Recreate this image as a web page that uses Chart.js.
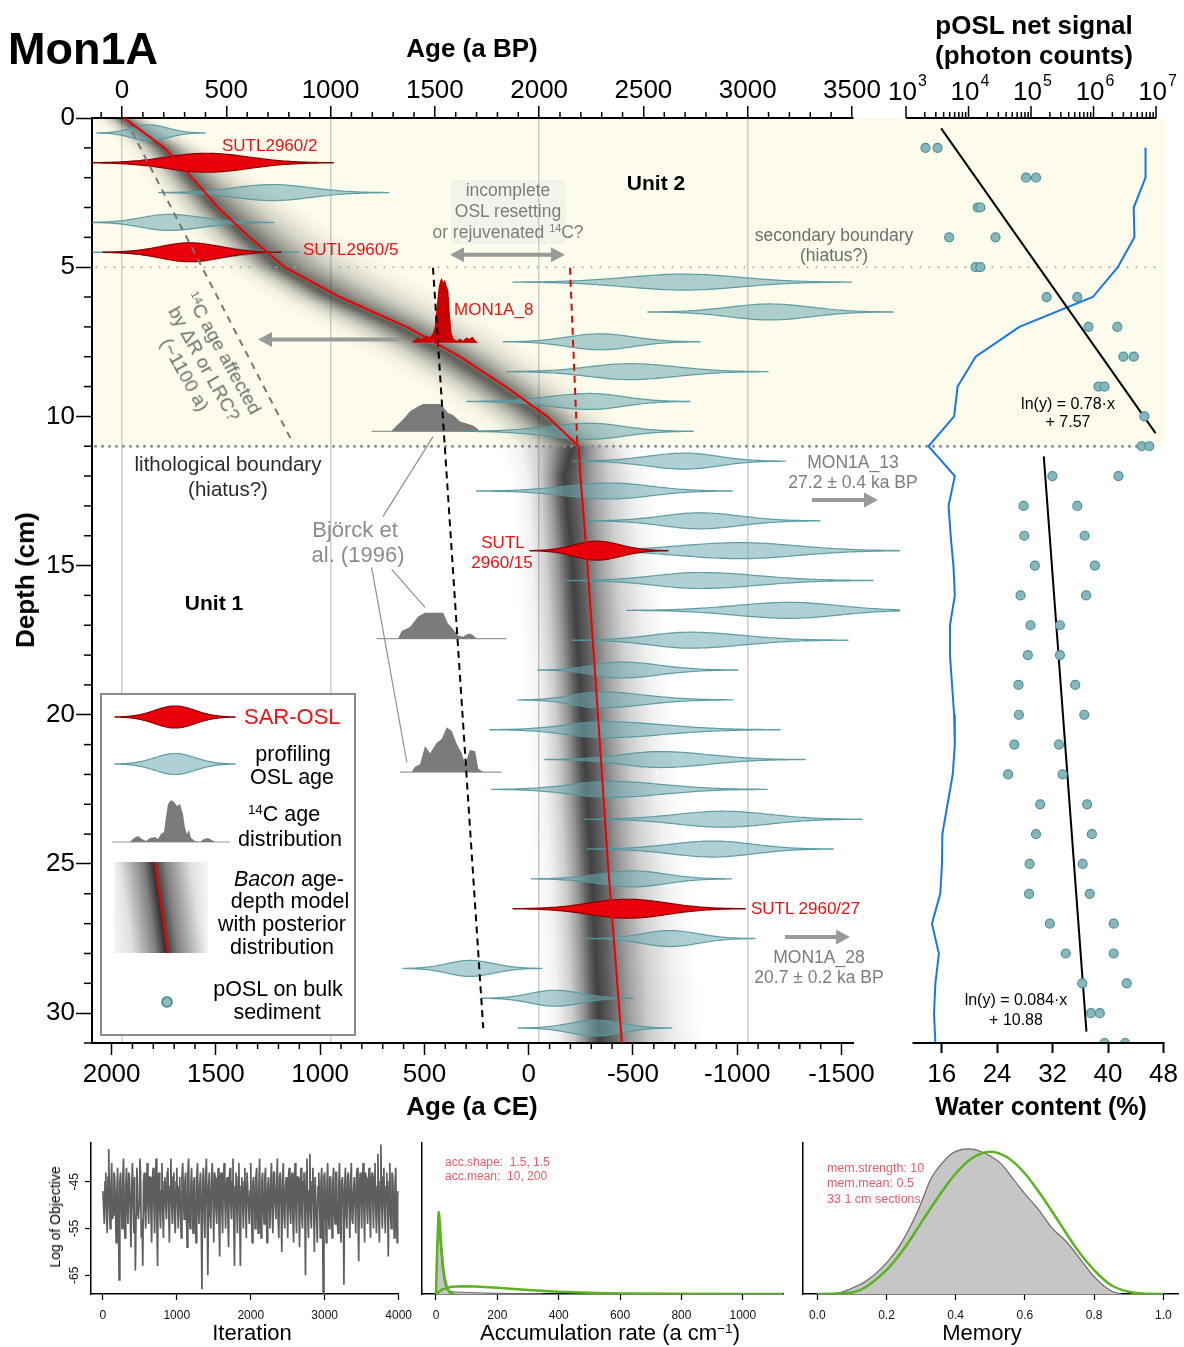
<!DOCTYPE html>
<html><head><meta charset="utf-8"><title>Mon1A</title>
<script src="https://cdn.jsdelivr.net/npm/chart.js@4.4.1/dist/chart.umd.min.js"></script>
<style>
html,body{margin:0;padding:0;background:#fff;}
body{width:1184px;height:1347px;position:relative;overflow:hidden;font-family:"Liberation Sans",Arial,Helvetica,sans-serif;}
canvas{position:absolute;display:block;}
.t{position:absolute;white-space:nowrap;line-height:1;}
sup{font-size:0.62em;vertical-align:0.55em;line-height:0;}
</style></head><body>
<div style="position:absolute;left:92px;top:118px;width:1073px;height:328px;background:#fcfbec"></div>
<div style="position:absolute;left:451px;top:180px;width:115px;height:64px;background:#f3f3ec"></div>
<canvas id="cMain" width="900" height="1130" style="left:0;top:0"></canvas>
<canvas id="cRight" width="331" height="1130" style="left:853px;top:0"></canvas>
<canvas id="cTrace" width="420" height="217" style="left:0;top:1130px"></canvas>
<canvas id="cAcc" width="380" height="217" style="left:420px;top:1130px"></canvas>
<canvas id="cMem" width="384" height="217" style="left:800px;top:1130px"></canvas>
<script>
const F = '"Liberation Sans", Arial, Helvetica, sans-serif';
Chart.defaults.font.family = F;
Chart.defaults.color = '#000';

// ================= DATA =================
// axes
const bpTicks = [0,500,1000,1500,2000,2500,3000,3500];
const ceTicks = [2000,1500,1000,500,0,-500,-1000,-1500];
const depthTicks = [0,5,10,15,20,25,30];
const wcTicks = [16,24,32,40,48];
const poslTicks = [1e3,1e4,1e5,1e6,1e7];

// Bacon age-depth model (ages in a BP)
const baconDepth  = [0,1,2,3,4,5,6,7,8,9,10,11,12,15,20,25,31];
const baconMedian = [10,204,336,461,612,781,1045,1365,1621,1839,2038,2190,2198,2232,2282,2330,2397];
const baconLow    = [-150,0,100,200,320,470,680,930,1180,1420,1640,1800,1860,1880,1925,1965,2010];
const baconMode   = [0,190,320,440,590,750,1000,1320,1580,1800,2000,2160,2120,2160,2205,2250,2290];
const baconHigh   = [150,430,650,870,1080,1300,1560,1800,2010,2200,2360,2480,2560,2590,2650,2720,2790];

// profiling OSL ages (a BP): depth, lower tail, mode, upper tail
const oslDepth = [0.5,2.5,3.5,4.5,5.5,6.5,7.5,8.5,9.5,10.5,11.5,12.5,13.5,14.5,15.5,16.5,17.5,18.5,19.5,20.5,21.5,22.5,23.5,24.5,25.5,27.5,28.5,29.5,30.5];
const oslLow   = [-120,177,-160,-140,1875,2522,1830,1846,1654,1635,2162,1700,2229,2086,2124,2420,2156,1995,1899,1764,2028,1773,2220,2229,1964,2228,1347,1724,1899];
const oslMode  = [129,719,221,330,2695,3107,2292,2436,2244,2244,2699,2340,2771,2963,2771,3203,2723,2388,2292,2316,2580,2340,2882,2834,2450,2627,1668,2076,2276];
const oslHigh  = [398,1278,727,846,3498,3697,2771,3097,2723,2738,3179,2925,3347,3788,3601,3888,3481,2953,2929,3155,3275,3092,3548,3409,2923,3035,2012,2450,2635];

// SAR-OSL ages (a BP)
const sarDepth = [1.5,4.5,14.5,26.5];
const sarLow   = [-160,-91,1956,1875];
const sarMode  = [406,324,2276,2426];
const sarHigh  = [1012,762,2618,2987];

// 14C calibrated distributions (a BP, relative probability)
const mon8Depth = 7.53;
const mon8Age  = [1389,1405,1420,1440,1460,1475,1490,1500,1510,1518,1525,1533,1540,1548,1556,1565,1572,1580,1590,1605,1620,1635,1650,1665,1680,1695,1707];
const mon8Prob = [0,.05,.08,.06,.11,.08,.14,.25,.6,.85,.95,1,.93,.97,.88,.8,.45,.15,.06,.03,.06,.03,.08,.06,.09,.03,0];
const bjA_Depth = 10.5;
const bjA_Age  = [1290,1305,1347,1381,1419,1443,1533,1545,1563,1587,1621,1653,1683,1701,1716];
const bjA_Prob = [0,.05,.18,.31,.38,.42,.42,.35,.28,.25,.15,.12,.09,.05,0];
const bjB_Depth = 17.45;
const bjB_Age  = [1323,1341,1381,1405,1419,1453,1540,1563,1587,1611,1635,1650,1668,1685,1701];
const bjB_Prob = [0,.12,.18,.28,.34,.4,.4,.23,.15,.05,.03,.06,.08,.05,0];
const bjC_Depth = 21.92;
const bjC_Age  = [1389,1405,1429,1453,1477,1509,1533,1557,1581,1605,1629,1645,1668,1693,1708,1732];
const bjC_Prob = [0,.08,.12,.4,.29,.45,.51,.69,.63,.43,.29,.12,.34,.32,.05,0];
const c14Baselines = [[mon8Depth,1385,1707],[bjA_Depth,1197,1812],[bjB_Depth,1221,1844],[bjC_Depth,1333,1820]];

// annotation lines (a BP, depth)
const offsetLineAge = [19,820],    offsetLineDepth = [0.07,10.9];
const c14TrendAge   = [1491,1732], c14TrendDepth   = [5.02,30.5];
const oslTrendAge   = [2148,2183], oslTrendDepth   = [5.02,10.9];
const linkAge = [[1491,1251],[1293,1453],[1197,1366]];
const linkDepth = [[10.68,13.36],[15.13,16.4],[15.07,21.6]];
const arrowAge = [[1573,2124],[1333,652],[3308,3625],[3179,3491]];
const arrowDepth = [4.58,7.42,12.8,27.45];
const arrowBoth = [true,false,false,false];

// pOSL net signal (photon counts) by depth
const poslDepth  = [1,1,2,2,3,3,4,4,5,5,6,6,7,7,8,8,9,9,10,11,11,12,12,13,13,14,14,15,15,16,16,17,17,18,18,19,19,20,20,21,21,22,22,23,23,24,24,25,25,26,26,27,27,28,28,29,29,30,30,31,31];
const poslSignal = [2050,3200,83000,120000,14000,15500,4900,27000,13000,15500,178000,550000,830000,2.4e6,3.0e6,4.4e6,1.2e6,1.5e6,6.5e6,5.9e6,7.8e6,2.2e5,2.5e6,7.6e4,5.5e5,7.8e4,7.2e5,1.15e5,1.05e6,6.8e4,7.6e5,9.8e4,2.9e5,8.9e4,2.9e5,6.3e4,5.1e5,6.4e4,7.1e5,5.4e4,2.8e5,4.3e4,3.2e5,1.4e5,7.9e5,1.2e5,9.4e5,9.5e4,6.7e5,9.3e4,8.7e5,2.0e5,2.1e6,3.6e5,2.1e6,6.6e5,3.4e6,9.1e5,1.26e6,1.5e6,3.2e6];
const fitU2Depth = [0.35,10.56], fitU2Signal = [3650,9.8e6];
const fitU1Depth = [11.34,30.62], fitU1Signal = [1.6e5,7.7e5];

// water content (%)
const wcDepth = [1,2,3,4,5,6,7,8,9,10,11,12,13,14,15,16,17,18,19,20,21,22,23,24,25,26,27,28,29,30,31];
const wcValue = [45.4,45.4,43.7,43.8,41.4,37.8,27.2,20.9,18.3,17.8,14.1,17.9,17.0,17.3,17.7,17.9,17.2,17.2,17.5,17.8,17.9,17.6,16.85,16.1,16.05,15.8,14.6,15.6,15.1,14.9,15.1];

// MCMC trace (log of objective); A: iterations 0,20,...,4000; B: iterations 10,30,...,3990
const traceStep = 20;
const traceValuesA = [
-47,-54,-43,-56,-38,-55,-41,-52,-44,-58,
-42,-66,-43,-55,-40,-57,-42,-54,-44,-59,
-41,-56,-64,-42,-53,-40,-57,-63,-43,-55,
-41,-54,-44,-58,-42,-56,-40,-63,-43,-55,
-41,-57,-44,-53,-42,-58,-40,-54,-43,-56,
-42,-55,-44,-57,-41,-53,-43,-59,-40,-55,
-42,-56,-44,-58,-41,-54,-43,-68,-42,-57,
-40,-65,-43,-55,-41,-58,-44,-54,-42,-61,
-43,-56,-41,-55,-44,-59,-42,-53,-40,-63,
-43,-56,-41,-63,-44,-55,-42,-57,-43,-54,
-41,-58,-44,-55,-42,-56,-40,-57,-43,-54,
-42,-58,-44,-55,-41,-56,-43,-53,-40,-57,
-43,-60,-41,-55,-44,-57,-42,-54,-43,-58,
-41,-56,-44,-59,-42,-55,-43,-65,-40,-57,
-39,-55,-42,-60,-44,-58,-43,-57,-42,-70,
-43,-58,-41,-55,-44,-57,-42,-54,-43,-56,
-41,-58,-44,-67,-42,-55,-43,-57,-41,-54,
-44,-56,-42,-62,-43,-55,-41,-58,-44,-54,
-42,-57,-43,-55,-41,-56,-39,-58,-37,-55,
-42,-56,-43,-61,-41,-55,-44,-57,-42,-58,
-48];
const traceValuesB = [
-50,-45,-52,-44,-51,-46,-53,-43,-50,-47,
-52,-45,-49,-44,-53,-46,-50,-43,-51,-47,
-49,-44,-52,-46,-50,-43,-53,-45,-51,-46,
-50,-44,-52,-45,-49,-46,-53,-44,-51,-47,
-52,-45,-50,-43,-51,-46,-49,-44,-53,-45,
-50,-46,-52,-44,-49,-45,-51,-43,-53,-46,
-49,-45,-52,-44,-50,-46,-53,-45,-51,-44,
-50,-46,-52,-45,-49,-43,-51,-46,-53,-44,
-51,-45,-49,-46,-52,-44,-50,-45,-53,-46,
-50,-44,-52,-46,-49,-45,-51,-43,-50,-47,
-52,-45,-49,-44,-51,-46,-53,-45,-50,-44,
-51,-46,-49,-45,-52,-43,-50,-46,-53,-44,
-50,-45,-52,-46,-49,-44,-51,-45,-53,-46,
-51,-44,-50,-46,-52,-45,-49,-43,-51,-47,
-52,-45,-50,-44,-53,-46,-49,-45,-51,-44,
-50,-46,-52,-44,-49,-45,-51,-43,-53,-46,
-51,-45,-49,-46,-52,-44,-50,-45,-53,-47,
-50,-44,-52,-46,-49,-45,-51,-43,-50,-46,
-52,-45,-49,-44,-51,-46,-53,-45,-50,-44,
-51,-46,-49,-45,-52,-43,-50,-46,-53,-47];
const traceTicksX = [0,1000,2000,3000,4000];
const traceTicksY = [-65,-55,-45];

// accumulation rate prior / posterior
const accTicks = [0,200,400,600,800,1000];
const accPrior1X = [0,4,9,13,18,25,35,45,60];
const accPrior1Y = [0,.3,.54,.45,.3,.15,.05,.01,0];
const accPostX = [0,3,7,11,16,22,30,45,80,150,250,350];
const accPostY = [0,.25,.45,.4,.28,.15,.06,.02,.012,.007,.003,0];
const accPrior2X = [0,20,50,90,130,200,300,400,500,600,800,1000,1130];
const accPrior2Y = [0,.03,.048,.052,.05,.042,.027,.015,.008,.004,.001,0,0];

// memory prior / posterior
const memTicks = [0,0.2,0.4,0.6,0.8,1.0];
const memPostX = [0,.05,.09,.14,.2,.24,.29,.33,.36,.39,.44,.475,.53,.57,.6,.64,.68,.72,.77,.8,.85,.88];
const memPostY = [0,.002,.03,.087,.214,.34,.57,.8,.9,.97,1,.98,.9,.78,.69,.58,.45,.36,.21,.12,.02,0];
const memPriorX = [0,.1,.2,.25,.3,.35,.4,.45,.5,.55,.6,.65,.7,.75,.8,.85,.9,.95,1];
const memPriorY = [0,.01,.165,.31,.49,.67,.83,.94,.98,.94,.83,.67,.49,.31,.165,.06,.015,.001,0];

// ================= STYLE CONSTANTS =================
const C14_PX = 65;          // px per unit relative probability
const TEAL_FILL = 'rgba(110,170,176,0.55)', TEAL_LINE = 'rgba(80,150,158,0.9)';
const RED_FILL = '#e8000b', RED_LINE = '#8a0000';
const ARROW_C = '#9a9a9a';

// ================= HELPERS =================
const pts = (xs, ys) => xs.map((x,i)=>({x, y: ys[i]}));
const lerp = (a,b,t) => a + (b-a)*t;

function violinPx(ctx, x0, xc, x1, yc, halfH, fill, stroke) {
  const N = 90, top = [];
  for (let i=0;i<=N;i++){
    const px = x0 + (x1-x0)*i/N;
    const s = px < xc ? (xc-x0)/3 : (x1-xc)/3;
    const h = halfH*Math.exp(-0.5*Math.pow((px-xc)/Math.max(s,0.5),2));
    top.push([px,h]);
  }
  ctx.beginPath();
  top.forEach(([x,h],i)=> i ? ctx.lineTo(x,yc-h) : ctx.moveTo(x,yc-h));
  for (let i=N;i>=0;i--) ctx.lineTo(top[i][0], yc+top[i][1]);
  ctx.closePath();
  ctx.fillStyle = fill; ctx.fill();
  ctx.strokeStyle = stroke; ctx.lineWidth = 1.2; ctx.stroke();
}
function dotted(ctx, x0, x1, y, step, r, color) {
  ctx.save(); ctx.fillStyle = color;
  for (let x = x0 + step/2; x <= x1; x += step) { ctx.beginPath(); ctx.arc(x, y, r, 0, Math.PI*2); ctx.fill(); }
  ctx.restore();
}
function arrowPx(ctx, x0, y0, x1, y1, both) {
  const hl = 14, hw = 7.5;
  const dir = Math.sign(x1-x0);
  ctx.save(); ctx.strokeStyle = ARROW_C; ctx.fillStyle = ARROW_C; ctx.lineWidth = 4;
  ctx.beginPath(); ctx.moveTo(both ? x0 + dir*hl*0.8 : x0, y0); ctx.lineTo(x1 - dir*hl*0.8, y1); ctx.stroke();
  const head = (xt, d) => { ctx.beginPath(); ctx.moveTo(xt, y1); ctx.lineTo(xt - d*hl, y1-hw); ctx.lineTo(xt - d*hl, y1+hw); ctx.closePath(); ctx.fill(); };
  head(x1, dir); if (both) head(x0, -dir);
  ctx.restore();
}
function drawDist(ctx, X, Y, depth, ages, probs, fill) {
  const yb = Y.getPixelForValue(depth);
  ctx.beginPath(); ctx.moveTo(X.getPixelForValue(ages[0]), yb);
  ages.forEach((a,i)=> ctx.lineTo(X.getPixelForValue(a), yb - probs[i]*C14_PX));
  ctx.lineTo(X.getPixelForValue(ages[ages.length-1]), yb); ctx.closePath();
  ctx.fillStyle = fill; ctx.fill();
}
function line(ctx, x0,y0,x1,y1){ ctx.beginPath(); ctx.moveTo(x0,y0); ctx.lineTo(x1,y1); ctx.stroke(); }

// ================= MAIN CHART =================
const mainPlugin = {
  id: 'mainDraw',
  beforeDatasetsDraw(chart) {
    const {ctx, chartArea: ca} = chart;
    const X = chart.scales.xBP, Y = chart.scales.y;
    // Bacon posterior cloud
    ctx.save();
    ctx.beginPath(); ctx.rect(ca.left, ca.top, ca.right-ca.left, ca.bottom-ca.top); ctx.clip();
    const LU=[0,.3,.55,.75,.9,1], LA=[0,.06,.24,.52,.8,.94];
    const RU=[.12,.3,.5,.75,1], RA=[.78,.48,.23,.07,0];
    for (let py = ca.top; py < ca.bottom; py += 2) {
      const d = Y.getValueForPixel(py+1);
      const peak = d <= 11 ? 0.74 : 0.88;
      let i = 0; while (i < baconDepth.length-2 && baconDepth[i+1] < d) i++;
      const t = Math.min(1, Math.max(0, (d-baconDepth[i])/(baconDepth[i+1]-baconDepth[i])));
      const x0 = X.getPixelForValue(lerp(baconLow[i], baconLow[i+1], t));
      const xm = X.getPixelForValue(lerp(baconMode[i], baconMode[i+1], t));
      const x1 = X.getPixelForValue(lerp(baconHigh[i], baconHigh[i+1], t));
      const fm = (xm-x0)/(x1-x0);
      const g = ctx.createLinearGradient(x0,0,x1,0);
      LU.forEach((u,k)=> g.addColorStop(fm*u, `rgba(25,25,25,${LA[k]*peak})`));
      RU.forEach((u,k)=> g.addColorStop(fm+(1-fm)*u, `rgba(25,25,25,${RA[k]*peak})`));
      ctx.fillStyle = g; ctx.fillRect(x0, py, x1-x0, 2);
    }
    ctx.restore();
    // boundaries
    dotted(ctx, ca.left, ca.right, Y.getPixelForValue(5), 9, 1.0, '#a9a9a9');
    dotted(ctx, ca.left, ca.right, Y.getPixelForValue(11), 7, 1.5, '#8a8a8a');
    // 14C baselines and distributions
    ctx.save(); ctx.strokeStyle = '#9a9a9a'; ctx.lineWidth = 1.2;
    c14Baselines.forEach(([d,a0,a1]) => line(ctx, X.getPixelForValue(a0), Y.getPixelForValue(d), X.getPixelForValue(a1), Y.getPixelForValue(d)));
    ctx.restore();
    drawDist(ctx, X, Y, bjA_Depth, bjA_Age, bjA_Prob, '#7b7b7b');
    drawDist(ctx, X, Y, bjB_Depth, bjB_Age, bjB_Prob, '#7b7b7b');
    drawDist(ctx, X, Y, bjC_Depth, bjC_Age, bjC_Prob, '#7b7b7b');
    drawDist(ctx, X, Y, mon8Depth, mon8Age, mon8Prob, '#c80000');
    // violins
    ctx.save();
    ctx.beginPath(); ctx.rect(ca.left, 0, chart.width-ca.left, chart.height); ctx.clip();
    oslDepth.forEach((d,i)=> violinPx(ctx, X.getPixelForValue(oslLow[i]), X.getPixelForValue(oslMode[i]), X.getPixelForValue(oslHigh[i]), Y.getPixelForValue(d), 8, TEAL_FILL, TEAL_LINE));
    sarDepth.forEach((d,i)=> violinPx(ctx, X.getPixelForValue(sarLow[i]), X.getPixelForValue(sarMode[i]), X.getPixelForValue(sarHigh[i]), Y.getPixelForValue(d), 9.5, RED_FILL, RED_LINE));
    ctx.restore();
  },
  afterDatasetsDraw(chart) {
    const {ctx} = chart; const X = chart.scales.xBP, Y = chart.scales.y;
    arrowAge.forEach((a,i)=> arrowPx(ctx, X.getPixelForValue(a[0]), Y.getPixelForValue(arrowDepth[i]), X.getPixelForValue(a[1]), Y.getPixelForValue(arrowDepth[i]), arrowBoth[i]));
  },
  afterDraw(chart) {
    const {ctx, chartArea: ca} = chart;
    const X = chart.scales.xBP, XC = chart.scales.xCE, Y = chart.scales.y;
    // minor ticks
    ctx.save(); ctx.strokeStyle = '#000'; ctx.lineWidth = 1.5;
    for (let v=-100; v<=3500; v+=100) if (v%500) { const x = X.getPixelForValue(v); line(ctx, x, ca.top, x, ca.top-6); }
    for (let v=2000; v>=-1500; v-=100) if (v%500) { const x = XC.getPixelForValue(v); line(ctx, x, ca.bottom, x, ca.bottom+6); }
    for (let d=1; d<=31; d++) if (d%5) { const y = Y.getPixelForValue(d); line(ctx, ca.left, y, ca.left-8, y); }
    ctx.restore();
    // legend
    ctx.save();
    ctx.fillStyle = '#fff'; ctx.fillRect(101,694,254,341);
    ctx.strokeStyle = '#8c8c8c'; ctx.lineWidth = 2; ctx.strokeRect(101,694,254,341);
    violinPx(ctx, 115, 175, 235, 717, 11, RED_FILL, RED_LINE);
    violinPx(ctx, 115, 175, 235, 764, 10.5, TEAL_FILL, TEAL_LINE);
    const lg = [[112,0],[130,0],[134,4],[138,6],[142,3],[146,1],[150,4],[155,5],[158,3],[161,8],[164,10],[166,25],[168,38],[171,42],[174,40],[177,36],[180,38],[183,28],[185,14],[187,8],[189,12],[191,4],[195,1],[200,0],[204,3],[208,4],[212,2],[215,0],[230,0]];
    ctx.strokeStyle = '#9a9a9a'; ctx.lineWidth = 1.2; line(ctx, 112, 842, 230, 842);
    ctx.beginPath(); ctx.moveTo(112,842); lg.forEach(([x,h])=>ctx.lineTo(x, 842-h)); ctx.closePath(); ctx.fillStyle = '#7b7b7b'; ctx.fill();
    const pos = x => Math.min(1, Math.max(0, (x-114)/94));
    for (let y=862; y<953; y++) {
      const cx = 155 + (y-862)*13/91;
      const g = ctx.createLinearGradient(114,0,208,0);
      g.addColorStop(0,'rgba(0,0,0,0.04)'); g.addColorStop(pos(cx-35),'rgba(0,0,0,0.12)');
      g.addColorStop(pos(cx-12),'rgba(0,0,0,0.5)'); g.addColorStop(pos(cx-2),'rgba(0,0,0,0.8)');
      g.addColorStop(pos(cx+10),'rgba(0,0,0,0.5)'); g.addColorStop(pos(cx+35),'rgba(0,0,0,0.12)');
      g.addColorStop(1,'rgba(0,0,0,0.03)');
      ctx.fillStyle = g; ctx.fillRect(114, y, 94, 1);
    }
    ctx.strokeStyle = '#ee0000'; ctx.lineWidth = 2; line(ctx, 155, 862, 168, 953);
    ctx.beginPath(); ctx.arc(167, 1002, 5, 0, Math.PI*2); ctx.fillStyle = '#8cbdc1'; ctx.fill(); ctx.strokeStyle = '#3f7f86'; ctx.lineWidth = 1.5; ctx.stroke();
    ctx.restore();
  }
};

const tickFont = {size: 26, family: F};
new Chart(document.getElementById('cMain'), {
  type: 'scatter',
  data: { datasets: [
    { data: pts(baconMedian, baconDepth), showLine: true, borderColor: '#f00000', borderWidth: 2, pointRadius: 0, xAxisID: 'xBP', yAxisID: 'y', order: 1 },
    { data: pts(offsetLineAge, offsetLineDepth), showLine: true, borderColor: '#777', borderWidth: 2, borderDash: [7,6], pointRadius: 0, xAxisID: 'xBP', yAxisID: 'y', order: 2 },
    { data: pts(c14TrendAge, c14TrendDepth), showLine: true, borderColor: '#000', borderWidth: 2, borderDash: [7,5], pointRadius: 0, xAxisID: 'xBP', yAxisID: 'y', order: 2 },
    { data: pts(oslTrendAge, oslTrendDepth), showLine: true, borderColor: '#cc1100', borderWidth: 2, borderDash: [7,5], pointRadius: 0, xAxisID: 'xBP', yAxisID: 'y', order: 2 },
    ...linkAge.map((a,i)=>({ data: pts(a, linkDepth[i]), showLine: true, borderColor: '#8f8f8f', borderWidth: 1.2, pointRadius: 0, xAxisID: 'xBP', yAxisID: 'y', order: 3 }))
  ]},
  options: {
    responsive: false, animation: false, events: [],
    layout: { padding: { left: 0, right: 47, top: 0, bottom: 0 } },
    plugins: { legend: { display: false }, tooltip: { enabled: false } },
    scales: {
      xBP: { type: 'linear', position: 'top', min: -144, max: 3505,
        afterBuildTicks: s => { s.ticks = bpTicks.map(v=>({value: v})); },
        afterFit: s => { s.height = 118; },
        grid: { drawOnChartArea: true, color: c => (c.tick && c.tick.value % 1000 === 0) ? '#cdcdcd' : 'rgba(0,0,0,0)', lineWidth: 1.5, tickColor: '#000', tickWidth: 1.5, tickLength: 12 },
        border: { display: true, color: '#000', width: 2 },
        ticks: { color: '#000', font: tickFont, padding: 0, maxRotation: 0, autoSkip: false, callback: v => String(v) } },
      xCE: { type: 'linear', position: 'bottom', reverse: true, min: 1950-3505, max: 1950+144,
        afterBuildTicks: s => { s.ticks = ceTicks.map(v=>({value: v})); },
        afterFit: s => { s.height = 87; },
        grid: { drawOnChartArea: false, tickColor: '#000', tickWidth: 1.5, tickLength: 12 },
        border: { display: true, color: '#000', width: 2 },
        ticks: { color: '#000', font: tickFont, padding: 4, maxRotation: 0, autoSkip: false, callback: v => String(v) } },
      y: { type: 'linear', position: 'left', reverse: true, min: 0, max: 31,
        afterBuildTicks: s => { s.ticks = depthTicks.map(v=>({value: v})); },
        afterFit: s => { s.width = 92; },
        grid: { drawOnChartArea: false, tickColor: '#000', tickWidth: 1.5, tickLength: 16 },
        border: { display: true, color: '#000', width: 2 },
        ticks: { color: '#000', font: tickFont, padding: 1, autoSkip: false, callback: v => String(v) } }
    }
  },
  plugins: [mainPlugin]
});

// ================= RIGHT PANEL =================
const rightPlugin = {
  id: 'rightDraw',
  beforeDatasetsDraw(chart) {
    const {ctx, chartArea: ca} = chart; const Y = chart.scales.y;
    dotted(ctx, 0, ca.right-4, Y.getPixelForValue(5), 9, 1.0, '#a9a9a9');
    dotted(ctx, 0, ca.right-7, Y.getPixelForValue(11), 7, 1.5, '#8a8a8a');
  },
  afterDraw(chart) {
    const {ctx, chartArea: ca} = chart; const XL = chart.scales.xLog, XW = chart.scales.xWC;
    ctx.save(); ctx.strokeStyle = '#000'; ctx.fillStyle = '#000';
    ctx.lineWidth = 2;
    line(ctx, XL.getPixelForValue(1e3), ca.top, XL.getPixelForValue(1e7), ca.top);
    line(ctx, XW.getPixelForValue(11.8), ca.bottom, XW.getPixelForValue(48)+1, ca.bottom);
    ctx.lineWidth = 1.5;
    for (let e=3; e<7; e++) for (let k=1; k<10; k++) {
      const x = XL.getPixelForValue(k*Math.pow(10,e)); line(ctx, x, ca.top, x, ca.top - (k===1 ? 12 : 6));
    }
    const x7 = XL.getPixelForValue(1e7); line(ctx, x7, ca.top, x7, ca.top-12);
    poslTicks.forEach(v => {
      const x = XL.getPixelForValue(v); const e = Math.round(Math.log10(v));
      ctx.font = `26px ${F}`; ctx.textAlign = 'right'; ctx.textBaseline = 'alphabetic'; ctx.fillText('10', x+11, 100);
      ctx.font = `16px ${F}`; ctx.textAlign = 'left'; ctx.fillText(String(e), x+12, 86);
    });
    ctx.restore();
  }
};
new Chart(document.getElementById('cRight'), {
  type: 'scatter',
  data: { datasets: [
    { data: pts(poslSignal, poslDepth), xAxisID: 'xLog', yAxisID: 'y', pointRadius: 4.5, pointBackgroundColor: '#84b8bc', pointBorderColor: '#4f8f96', pointBorderWidth: 1.2, order: 1 },
    { data: pts(fitU2Signal, fitU2Depth), showLine: true, borderColor: '#000', borderWidth: 2, pointRadius: 0, xAxisID: 'xLog', yAxisID: 'y', order: 2 },
    { data: pts(fitU1Signal, fitU1Depth), showLine: true, borderColor: '#000', borderWidth: 2, pointRadius: 0, xAxisID: 'xLog', yAxisID: 'y', order: 2 },
    { data: pts(wcValue, wcDepth), showLine: true, borderColor: '#1a76e6', borderWidth: 2, pointRadius: 0, xAxisID: 'xWC', yAxisID: 'y', order: 3 }
  ]},
  options: {
    responsive: false, animation: false, events: [],
    layout: { padding: { left: 53, right: 16, top: 0, bottom: 0 } },
    plugins: { legend: { display: false }, tooltip: { enabled: false } },
    scales: {
      xLog: { type: 'logarithmic', position: 'top', min: 1000, max: 1.317e7,
        afterFit: s => { s.height = 118; },
        ticks: { display: false }, grid: { display: false }, border: { display: false } },
      xWC: { type: 'linear', position: 'bottom', min: 10.86, max: 48,
        afterBuildTicks: s => { s.ticks = wcTicks.map(v=>({value: v})); },
        afterFit: s => { s.height = 87; },
        grid: { drawOnChartArea: false, tickColor: '#000', tickWidth: 2, tickLength: 10 },
        border: { display: false },
        ticks: { color: '#000', font: tickFont, padding: 6, maxRotation: 0, autoSkip: false, callback: v => String(v) } },
      y: { type: 'linear', reverse: true, min: 0, max: 31, display: false }
    }
  },
  plugins: [rightPlugin]
});

// ================= BOTTOM PANELS =================
const smallFont = {size: 12, family: F};
function bottomX(min, max, ticks, fmt) {
  return { type: 'linear', position: 'bottom', min, max,
    afterBuildTicks: s => { s.ticks = ticks.map(v=>({value: v})); },
    afterFit: s => { s.height = 53; },
    grid: { drawOnChartArea: false, tickColor: '#000', tickWidth: 1.2, tickLength: 6 },
    border: { display: true, color: '#000', width: 1.5 },
    ticks: { color: '#111', font: smallFont, padding: 8, maxRotation: 0, autoSkip: false, callback: fmt } };
}
const traceYPlugin = {
  id: 'traceY',
  afterDraw(chart) {
    const {ctx} = chart; const Y = chart.scales.y;
    ctx.save(); ctx.fillStyle = '#111'; ctx.font = `12px ${F}`; ctx.textAlign = 'center'; ctx.textBaseline = 'middle';
    traceTicksY.forEach(v => { ctx.save(); ctx.translate(75, Y.getPixelForValue(v)); ctx.rotate(-Math.PI/2); ctx.fillText(String(v), 0, 0); ctx.restore(); });
    ctx.restore();
  }
};
const tracePoints = [];
traceValuesA.forEach((v,i) => {
  tracePoints.push({x: i*traceStep, y: v});
  if (i < traceValuesB.length) tracePoints.push({x: i*traceStep + traceStep/2, y: traceValuesB[i]});
});
new Chart(document.getElementById('cTrace'), {
  type: 'scatter',
  data: { datasets: [ { data: tracePoints, showLine: true, borderColor: '#5e5e5e', borderWidth: 1.7, pointRadius: 0 } ] },
  options: {
    responsive: false, animation: false, events: [],
    layout: { padding: { top: 13, right: 18 } },
    plugins: { legend: { display: false }, tooltip: { enabled: false } },
    scales: {
      x: bottomX(-160, 4000, traceTicksX, v => String(v)),
      y: { type: 'linear', min: -69, max: -36.7,
        afterBuildTicks: s => { s.ticks = traceTicksY.map(v=>({value: v})); },
        afterFit: s => { s.width = 91; },
        grid: { drawOnChartArea: false, tickColor: '#000', tickWidth: 1.2, tickLength: 6 },
        border: { display: true, color: '#000', width: 1.5 },
        ticks: { display: false } }
    }
  },
  plugins: [traceYPlugin]
});
function plainY(w, max) {
  return { type: 'linear', min: 0, max, afterFit: s => { s.width = w; },
    grid: { display: false }, border: { display: true, color: '#000', width: 1.5 }, ticks: { display: false } };
}
new Chart(document.getElementById('cAcc'), {
  type: 'scatter',
  data: { datasets: [
    { data: pts(accPrior2X, accPrior2Y), showLine: true, borderColor: '#5cb31d', borderWidth: 2.5, pointRadius: 0, order: 1 },
    { data: pts(accPrior1X, accPrior1Y), showLine: true, borderColor: '#5cb31d', borderWidth: 2.5, pointRadius: 0, tension: 0.3, order: 1 },
    { data: pts(accPostX, accPostY), showLine: true, borderColor: '#6a6a6a', borderWidth: 1, backgroundColor: '#c6c6c6', fill: 'origin', pointRadius: 0, tension: 0.3, order: 2 }
  ]},
  options: {
    responsive: false, animation: false, events: [],
    layout: { padding: { top: 13, right: 17 } },
    plugins: { legend: { display: false }, tooltip: { enabled: false } },
    scales: { x: bottomX(-45.6, 1131, accTicks, v => String(v)), y: plainY(2, 1) }
  }
});
new Chart(document.getElementById('cMem'), {
  type: 'scatter',
  data: { datasets: [
    { data: pts(memPriorX, memPriorY), showLine: true, borderColor: '#5cb31d', borderWidth: 2.5, pointRadius: 0, cubicInterpolationMode: 'monotone', order: 1 },
    { data: pts(memPostX, memPostY), showLine: true, borderColor: '#6a6a6a', borderWidth: 1.2, backgroundColor: '#c6c6c6', fill: 'origin', pointRadius: 0, cubicInterpolationMode: 'monotone', order: 2 }
  ]},
  options: {
    responsive: false, animation: false, events: [],
    layout: { padding: { top: 13, right: 6 } },
    plugins: { legend: { display: false }, tooltip: { enabled: false } },
    scales: { x: bottomX(-0.0413, 1.0425, memTicks, v => Number(v).toFixed(1)), y: plainY(3, 1.04) }
  }
});

// ================= TEXT =================
function addText(html, x, y, o = {}) {
  const d = document.createElement('div'); d.className = 't'; d.innerHTML = html;
  d.style.left = x + 'px'; d.style.top = y + 'px';
  d.style.fontSize = (o.size || 17) + 'px'; d.style.color = o.color || '#000';
  if (o.bold) d.style.fontWeight = 'bold';
  if (o.lh) d.style.lineHeight = o.lh;
  if (o.ta) d.style.textAlign = o.ta;
  const tx = o.align === 'l' ? '0' : (o.align === 'r' ? '-100%' : '-50%');
  d.style.transform = `translate(${tx},-50%)` + (o.rot ? ` rotate(${o.rot}deg)` : '');
  document.body.appendChild(d);
}
const GREY = '#7d7d7d', RED = '#ee1111';
addText('Mon1A', 8, 48, {size: 45, bold: true, align: 'l'});
addText('Age (a BP)', 472, 48, {size: 26, bold: true});
addText('pOSL net signal', 1034, 25, {size: 26, bold: true});
addText('(photon counts)', 1034, 55, {size: 26, bold: true});
addText('Depth (cm)', 25, 580, {size: 26, bold: true, rot: -90});
addText('Age (a CE)', 472, 1106, {size: 26, bold: true});
addText('Water content (%)', 1041, 1106, {size: 25, bold: true});
addText('SUTL2960/2', 222, 145, {size: 17, color: RED, align: 'l'});
addText('SUTL2960/5', 303, 249, {size: 17, color: RED, align: 'l'});
addText('MON1A_8', 454, 309, {size: 17, color: RED, align: 'l'});
addText('SUTL', 503, 542, {size: 17, color: RED});
addText('2960/15', 502, 562, {size: 17, color: RED});
addText('SUTL 2960/27', 751, 908, {size: 17, color: RED, align: 'l'});
addText('incomplete', 508, 191, {size: 17.5, color: GREY});
addText('OSL resetting', 508, 212, {size: 17.5, color: GREY});
addText('or rejuvenated <sup>14</sup>C?', 508, 233, {size: 17.5, color: GREY});
addText('Unit 2', 656, 182, {size: 21, bold: true});
addText('secondary boundary', 834, 236, {size: 17.5, color: '#6e6e6e'});
addText('(hiatus?)', 834, 256, {size: 17.5, color: '#6e6e6e'});
addText('<sup>14</sup>C age affected<br>by ΔR or LRC?<br>(~1100 a)', 204, 364, {size: 19, color: '#6e6e6e', rot: 61, lh: '22px', ta: 'center'});
addText('lithological boundary', 228, 464, {size: 20.5, color: '#2b2b2b'});
addText('(hiatus?)', 228, 489, {size: 20.5, color: '#2b2b2b'});
addText('Björck et', 355, 530, {size: 22, color: '#8c8c8c'});
addText('al. (1996)', 358, 555, {size: 22, color: '#8c8c8c'});
addText('Unit 1', 214, 602, {size: 21, bold: true});
addText('MON1A_13', 853, 463, {size: 17.5, color: GREY});
addText('27.2 ± 0.4 ka BP', 853, 483, {size: 17.5, color: GREY});
addText('MON1A_28', 819, 958, {size: 17.5, color: GREY});
addText('20.7 ± 0.2 ka BP', 819, 978, {size: 17.5, color: GREY});
addText('ln(y) = 0.78·x', 1068, 404, {size: 16});
addText('+ 7.57', 1068, 422, {size: 16});
addText('ln(y) = 0.084·x', 1016, 1000, {size: 16});
addText('+ 10.88', 1016, 1020, {size: 16});
// legend text
addText('SAR-OSL', 244, 717, {size: 22, color: RED, align: 'l'});
addText('profiling', 293, 755, {size: 21.5});
addText('OSL age', 292, 778, {size: 21.5});
addText('<sup>14</sup>C age', 284, 815, {size: 21.5});
addText('distribution', 290, 840, {size: 21.5});
addText('<i>Bacon</i> age-', 289, 880, {size: 21.5});
addText('depth model', 290, 902, {size: 21.5});
addText('with posterior', 282, 925, {size: 21.5});
addText('distribution', 282, 948, {size: 21.5});
addText('pOSL on bulk', 278, 990, {size: 21.5});
addText('sediment', 277, 1013, {size: 21.5});
// bottom panels
addText('Log of Objective', 55, 1217, {size: 14, rot: -90});
addText('Iteration', 252, 1333, {size: 22});
addText('Accumulation rate (a cm<sup>−1</sup>)', 610, 1333, {size: 22});
addText('Memory', 982, 1333, {size: 22});
addText('acc.shape:&nbsp; 1.5, 1.5', 445, 1162, {size: 12, color: '#e65c68', align: 'l'});
addText('acc.mean:&nbsp; 10, 200', 445, 1176, {size: 12, color: '#e65c68', align: 'l'});
addText('mem.strength: 10', 827, 1168, {size: 12.5, color: '#e65c68', align: 'l'});
addText('mem.mean: 0.5', 827, 1183, {size: 12.5, color: '#e65c68', align: 'l'});
addText('33 1 cm sections', 827, 1199, {size: 12.5, color: '#e65c68', align: 'l'});
</script></body></html>
